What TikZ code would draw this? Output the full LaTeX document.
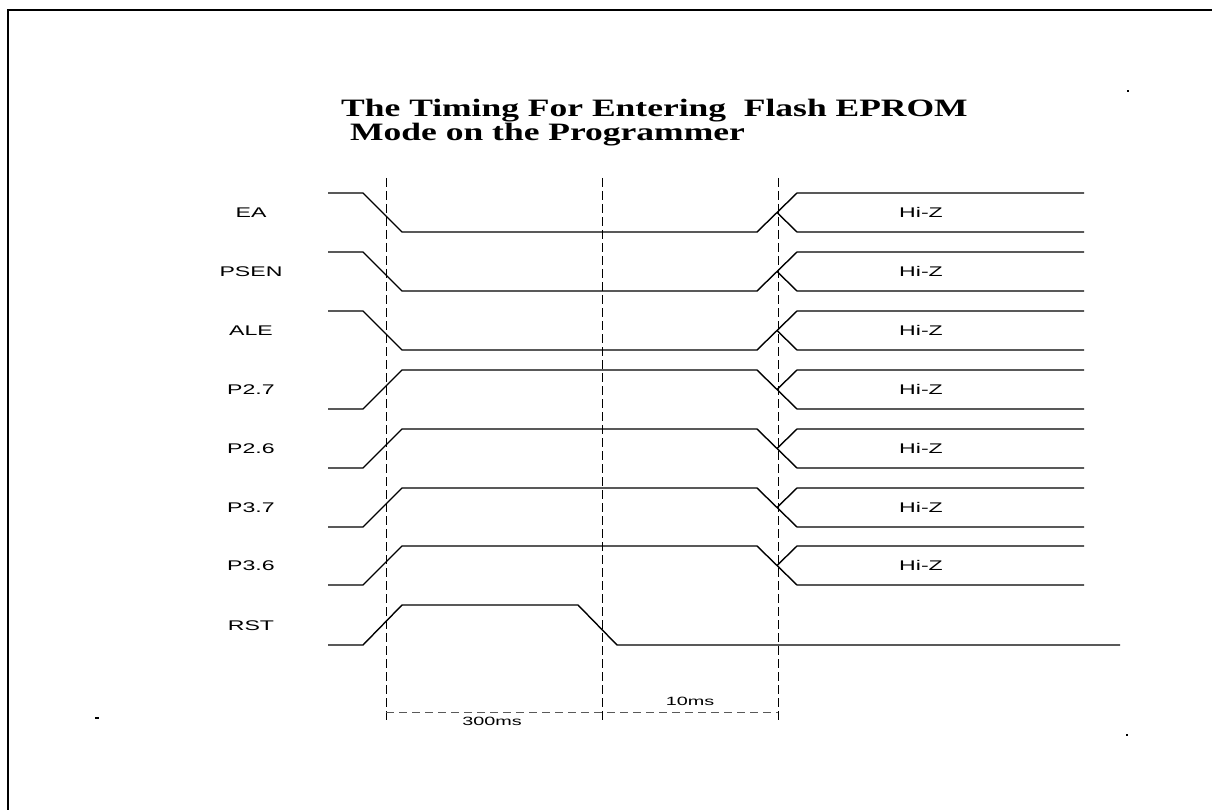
\documentclass[tikz,border=0pt]{standalone}
\usepackage{fontspec}
\setmainfont{Liberation Serif}
\newfontfamily\labelfont{Liberation Sans}[FakeStretch=1.65]
\newfontfamily\titlefont{Liberation Serif}[FakeStretch=1.42]
\tikzset{
  wave/.style={line width=1.4pt},
  guide/.style={line width=1pt, dash pattern=on 9pt off 4pt},
  dimline/.style={line width=1pt, black!65, dash pattern=on 8pt off 5pt},
  siglabel/.style={font=\labelfont\fontsize{14}{14}\selectfont, inner sep=0pt},
  timelabel/.style={font=\labelfont\fontsize{12}{12}\selectfont, inner sep=0pt},
  titletext/.style={font=\titlefont\bfseries\fontsize{25}{25}\selectfont, inner sep=0pt, anchor=base west},
}
\begin{document}
\begin{tikzpicture}[x=1pt, y=-1pt]
\useasboundingbox (0,0) rectangle (1212,810);
% frame
\draw[line width=2pt] (8,810) -- (8,10) -- (1212,10);
\fill (1127,90) rectangle (1129,92);
\fill (1126,734) rectangle (1128,736);
\fill (95,717) rectangle (99,719);
% title
\node[titletext] (title1) at (341,117) {The Timing For Entering\ \ Flash EPROM};
\node[titletext] (title2) at (350,141) {Mode on the Programmer};
% signals going low, then Hi-Z
\foreach \name/\top [count=\i] in {EA/193, PSEN/252, ALE/311} {
  \node[siglabel] (sig\i) at (251,\top+19.5) {\name};
  \draw[wave] (328,\top) -- (363,\top) -- (402,\top+39) -- (757,\top+39) -- (797,\top) -- (1084,\top);
  \draw[wave] (777,\top+19.5) -- (797,\top+39) -- (1084,\top+39);
  \node[siglabel] (hiz\i) at (921,\top+19.5) {Hi-Z};
}
% signals going high, then Hi-Z
\foreach \name/\top [count=\i from 4] in {P2.7/370, P2.6/429, P3.7/488, P3.6/546} {
  \node[siglabel] (sig\i) at (251,\top+19.5) {\name};
  \draw[wave] (328,\top+39) -- (363,\top+39) -- (402,\top) -- (757,\top) -- (797,\top+39) -- (1084,\top+39);
  \draw[wave] (777,\top+19.5) -- (797,\top) -- (1084,\top);
  \node[siglabel] (hiz\i) at (921,\top+19.5) {Hi-Z};
}
% reset pulse
\node[siglabel] (sig8) at (251,626) {RST};
\draw[wave] (328,645) -- (363,645) -- (402,605) -- (578,605) -- (617,645) -- (1120,645);
% time marks
\coordinate (t0) at (386,712);
\coordinate (t1) at (602,712);
\coordinate (t2) at (778,712);
\foreach \c in {t0,t1,t2}
  \draw[guide] (\c) ++(0,-534) -- ++(0,545);
\draw[dimline] (t0) -- (t2);
\node[timelabel] (d300) at (492,721) {300ms};
\node[timelabel] (d10) at (690,701) {10ms};
\end{tikzpicture}
\end{document}
